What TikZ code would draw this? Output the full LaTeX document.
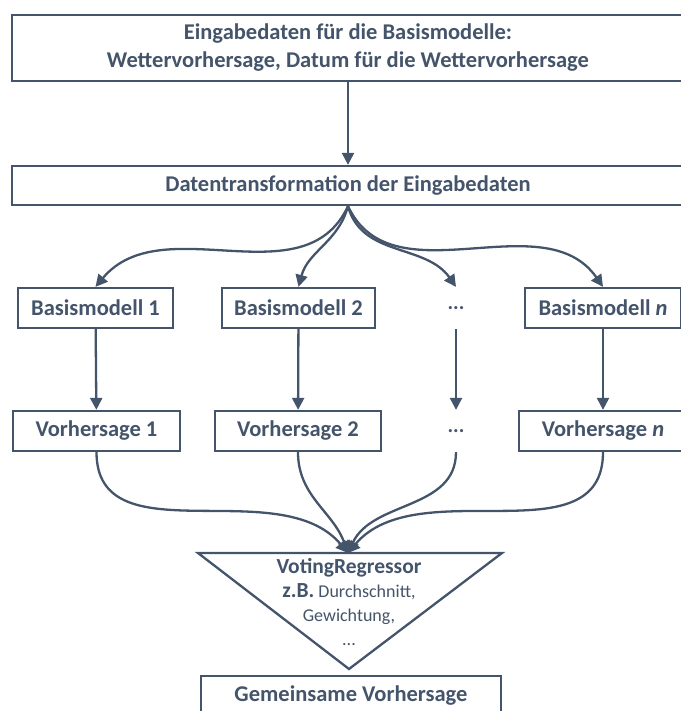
\documentclass[tikz,border=0pt]{standalone}
\usepackage{fontspec}
\setmainfont{Carlito}
\usetikzlibrary{arrows.meta}
\definecolor{slateText}{HTML}{44546A}

\begin{document}
\begin{tikzpicture}[x=1pt,y=1pt,color=slateText,line width=2.3pt,
    box/.style={draw,fill=white,inner sep=0pt,align=center,minimum height=40pt,
                font=\bfseries\fontsize{22.5}{28}\selectfont},
    gap/.style={inner sep=0pt,minimum height=40pt,font=\bfseries\fontsize{21}{28}\selectfont},
    flow/.style={-{Triangle[length=12pt,width=12pt]}}]
  \useasboundingbox (0,0) rectangle (680,-711);

  % input and transformation
  \node[box,minimum width=672pt,minimum height=66pt] (inp) at (348,-48)
    {Eingabedaten für die Basismodelle:\\Wettervorhersage, Datum für die Wettervorhersage};
  \node[box,minimum width=672pt,minimum height=39pt] (dt) at (348,-185.5)
    {Datentransformation der Eingabedaten};
  \draw[flow] (inp) -- (dt);

  % base models
  \node[box,minimum width=155pt] (bm1) at (95.5,-308) {Basismodell 1};
  \node[box,minimum width=153pt] (bm2) at (298.5,-308) {Basismodell 2};
  \node[gap] (bmd) at (456,-308) {...};
  \node[box,minimum width=156pt] (bmn) at (603,-308) {Basismodell \textit{n}};

  % predictions
  \node[box,minimum width=167pt] (vs1) at (96.5,-431) {Vorhersage 1};
  \node[box,minimum width=166pt] (vs2) at (298,-431) {Vorhersage 2};
  \node[gap] (vsd) at (456,-431) {...};
  \node[box,minimum width=168pt] (vsn) at (603,-431) {Vorhersage \textit{n}};

  \draw[flow] (dt.south) to[out=-115,in=50] (bm1.north);
  \draw[flow] (dt.south) to[out=-105,in=75] (bm2.north);
  \draw[flow] (dt.south) to[out=-75,in=125] (bmd.north);
  \draw[flow] (dt.south) to[out=-65,in=125] (bmn.north);
  \draw[flow] (bm1) -- (vs1);
  \draw[flow] (bm2) -- (vs2);
  \draw[flow] (bmd) -- (vsd);
  \draw[flow] (bmn) -- (vsn);

  % voting regressor
  \draw[fill=white] (198,-553) -- (502,-553) -- (349,-669) -- cycle;
  \coordinate (vtop) at (348,-553);
  \node[align=center,inner sep=0pt,font=\fontsize{18}{24}\selectfont] (vote) at (349,-602)
    {{\bfseries\fontsize{21.5}{24}\selectfont VotingRegressor}\\
     {\bfseries\fontsize{21.5}{24}\selectfont z.B.} Durchschnitt,\\
     Gewichtung,\\
     ...};
  \draw[flow] (vs1.south) to[out=-90,in=130] (vtop);
  \draw[flow] (vs2.south) to[out=-90,in=110] (vtop);
  \draw[flow] (vsd.south) to[out=-90,in=65] (vtop);
  \draw[flow] (vsn.south) to[out=-90,in=50] (vtop);

  \node[box,minimum width=300pt] (res) at (351,-696) {Gemeinsame Vorhersage};
\end{tikzpicture}
\end{document}
